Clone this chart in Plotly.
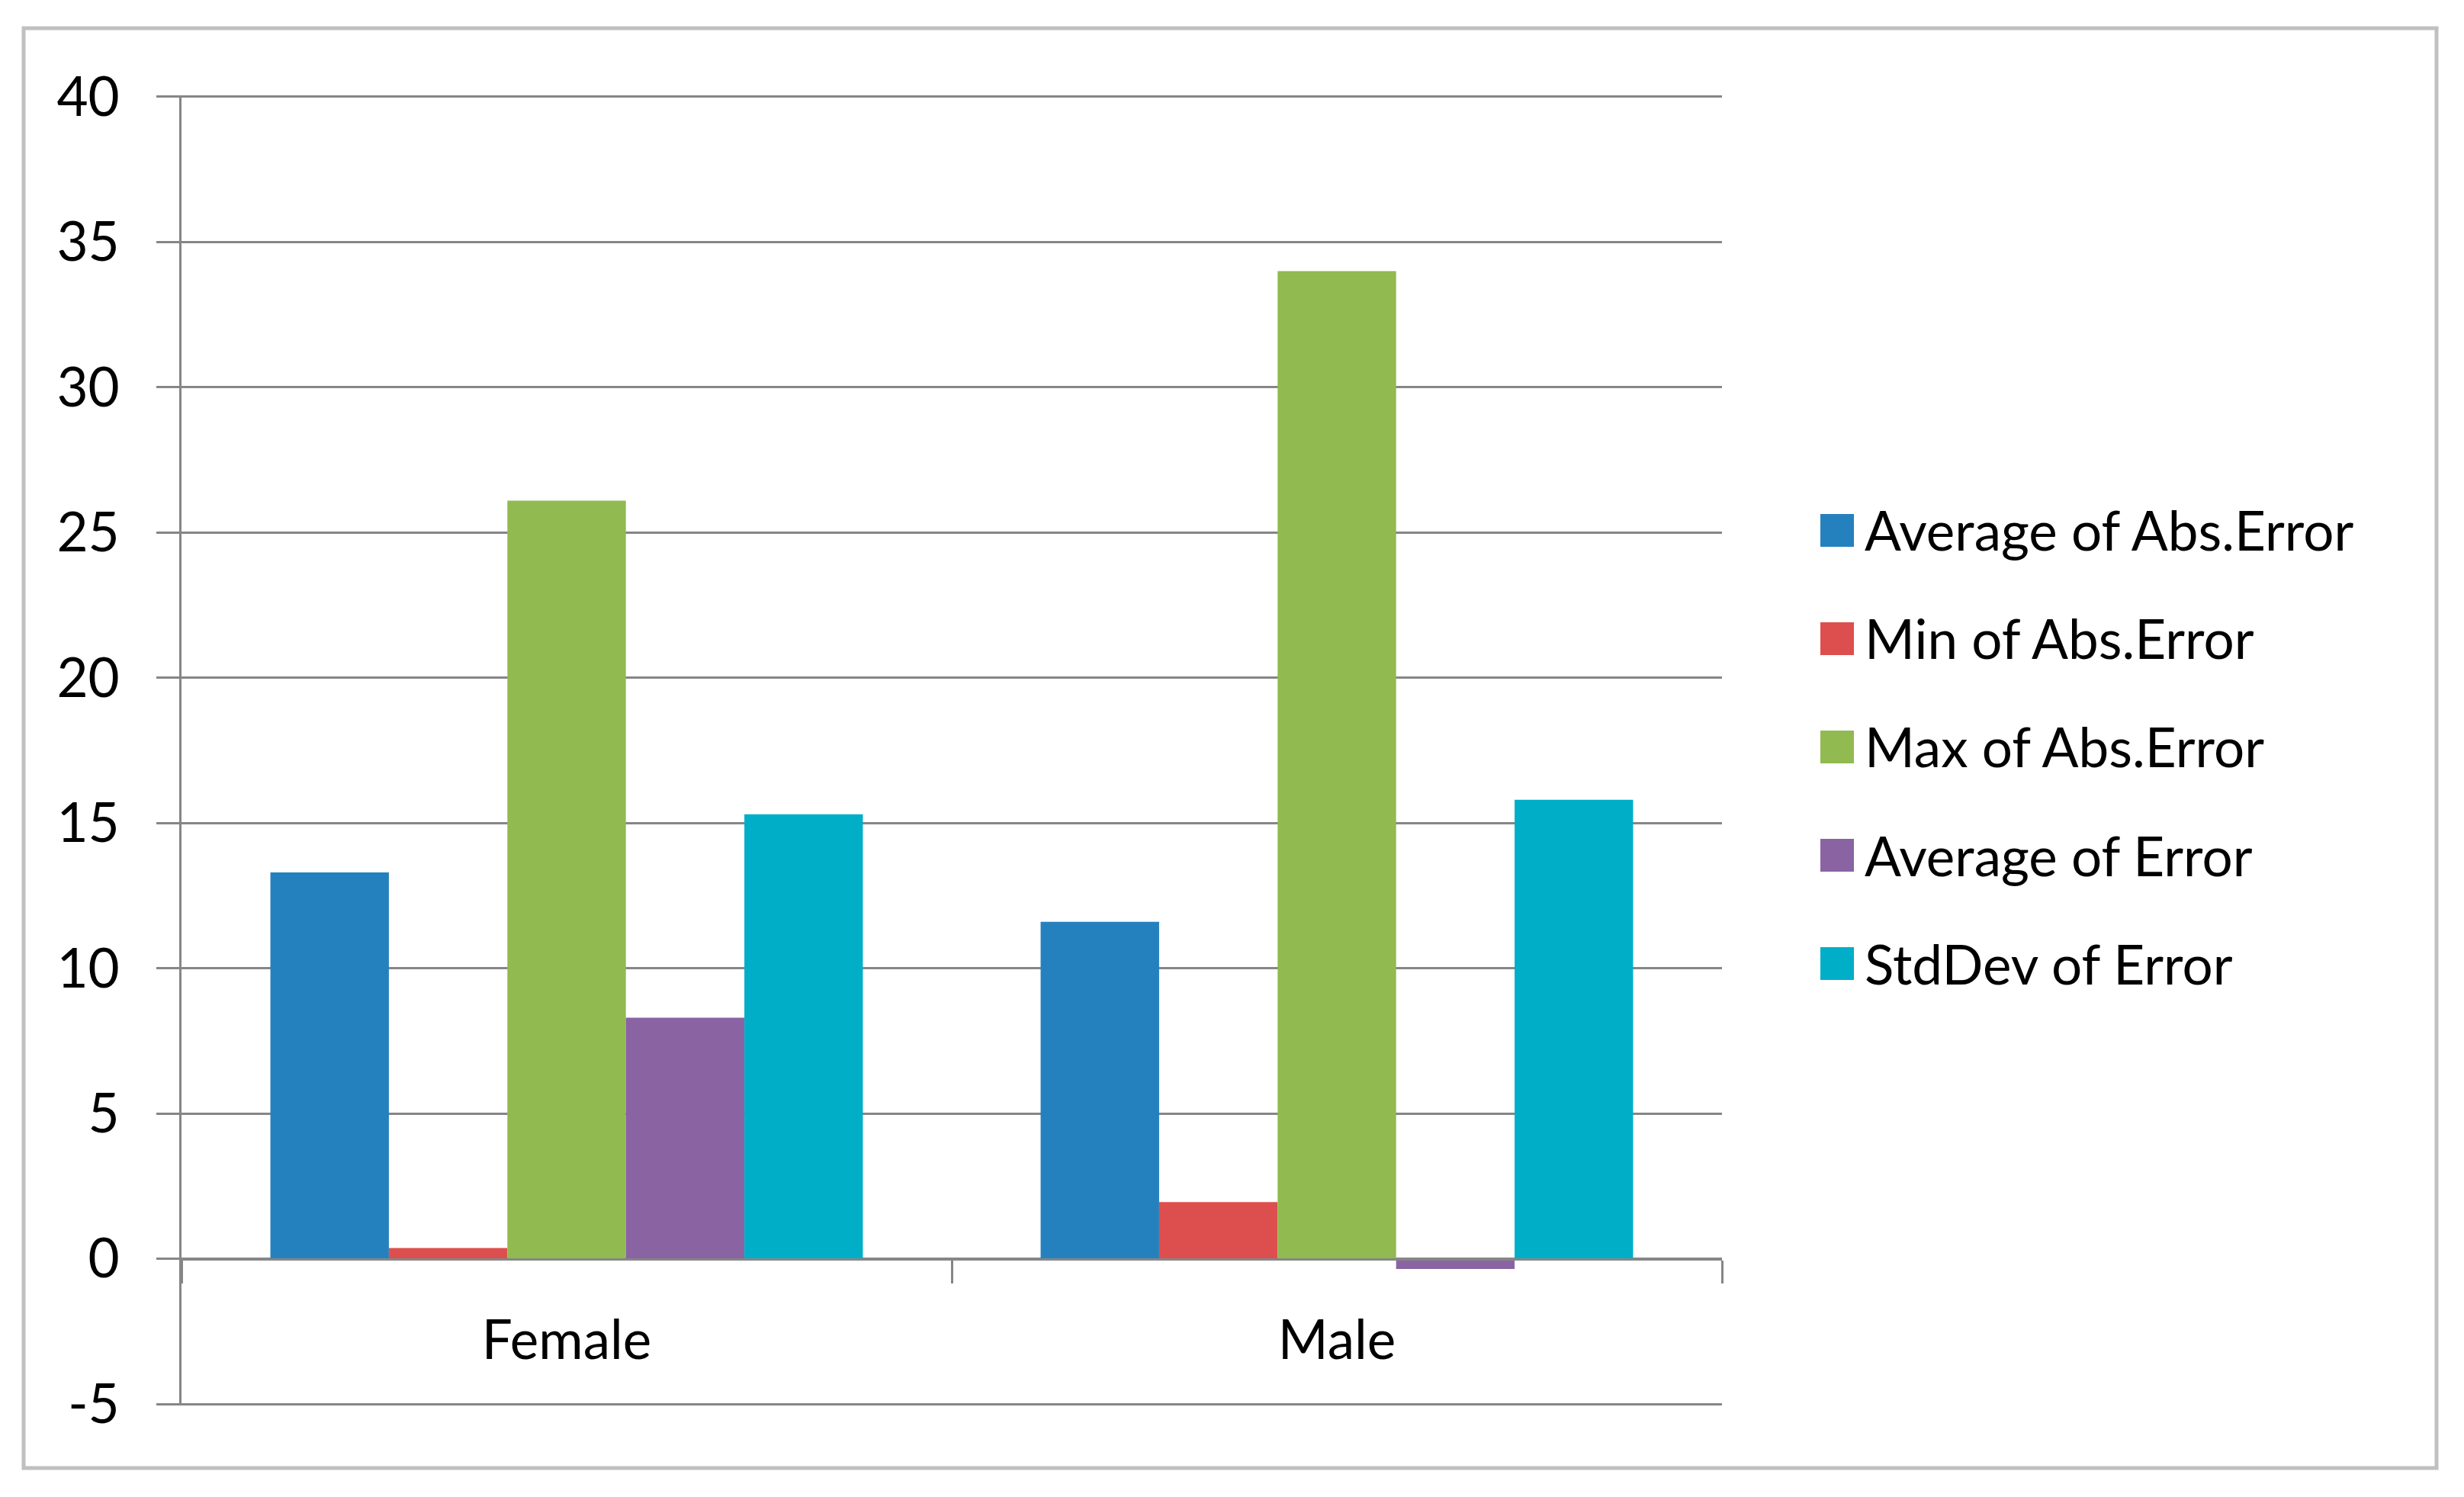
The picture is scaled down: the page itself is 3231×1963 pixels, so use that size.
import plotly.graph_objects as go

# ---------------- data ----------------
categories = ["Female", "Male"]
series_names = [
    "Average of Abs.Error",
    "Min of Abs.Error",
    "Max of Abs.Error",
    "Average of Error",
    "StdDev of Error",
]
avg_abs_error = [13.3, 11.6]
min_abs_error = [0.37, 1.95]
max_abs_error = [26.1, 34.0]
avg_error = [8.3, -0.35]
stddev_error = [15.3, 15.8]
y_tick_values = [-5, 0, 5, 10, 15, 20, 25, 30, 35, 40]
y_tick_labels = ["-5", "0", "5", "10", "15", "20", "25", "30", "35", "40"]

series_values = [avg_abs_error, min_abs_error, max_abs_error, avg_error, stddev_error]
colors = ["#2581BE", "#DD4F4E", "#91BA50", "#8A63A3", "#00AEC8"]

# ---------------- layout geometry (pixels) ----------------
W, H = 3231, 1963
Y_MIN, Y_MAX = -5, 40
PAD = 0.05  # small range padding so the edge gridlines are drawn
L, R = 238, 2258
PX_PER_UNIT = (1841 - 127) / (Y_MAX - Y_MIN)
T = 127 - PAD * PX_PER_UNIT
B = 1841 + PAD * PX_PER_UNIT
GRID = "#868686"
FONT = "Lato"
FS = 71


def px_x(x):
    return (x - L) / (R - L)


def px_y(y):
    return (B - y) / (B - T)


fig = go.Figure()
for name, vals, col in zip(series_names, series_values, colors):
    fig.add_trace(
        go.Bar(
            x=categories,
            y=vals,
            name=name,
            marker=dict(color=col, line=dict(width=0)),
            showlegend=False,
        )
    )

shapes = [
    dict(
        type="rect", xref="paper", yref="paper",
        x0=px_x(31), x1=px_x(3195), y0=px_y(1925), y1=px_y(37),
        line=dict(color="#C0C0C0", width=5), fillcolor="rgba(0,0,0,0)",
        layer="below",
    )
]
annotations = []
for i, (name, col) in enumerate(zip(series_names, colors)):
    top = 674 + 142 * i
    shapes.append(
        dict(
            type="rect", xref="paper", yref="paper",
            x0=px_x(2387), x1=px_x(2431), y0=px_y(top + 43), y1=px_y(top),
            line=dict(width=0), fillcolor=col,
        )
    )
    annotations.append(
        dict(
            xref="paper", yref="paper", x=px_x(2443), y=px_y(top + 21),
            xanchor="left", yanchor="middle", showarrow=False, text=name,
            font=dict(family=FONT, size=FS, color="#000000"),
        )
    )

fig.update_layout(
    width=W,
    height=H,
    margin=dict(l=L, r=W - R, t=T, b=H - B, pad=0),
    paper_bgcolor="white",
    plot_bgcolor="white",
    barmode="group",
    bargap=0.2308,
    bargroupgap=0,
    showlegend=False,
    font=dict(family=FONT, size=FS, color="#000000"),
    shapes=shapes,
    annotations=annotations,
    xaxis=dict(
        type="category",
        anchor="free",
        position=(0 - (Y_MIN - PAD)) / ((Y_MAX + PAD) - (Y_MIN - PAD)),
        showline=True,
        linecolor=GRID,
        linewidth=3,
        showgrid=False,
        zeroline=False,
        ticks="outside",
        tickson="boundaries",
        ticklen=30,
        tickwidth=3,
        tickcolor=GRID,
        ticklabelstandoff=44,
        tickfont=dict(family=FONT, size=FS, color="#000000"),
    ),
    yaxis=dict(
        range=[Y_MIN - PAD, Y_MAX + PAD],
        tickmode="array",
        tickvals=y_tick_values,
        ticktext=y_tick_labels,
        showline=True,
        linecolor=GRID,
        linewidth=3,
        showgrid=True,
        gridcolor=GRID,
        gridwidth=3,
        zeroline=False,
        ticks="outside",
        ticklen=30,
        tickwidth=3,
        tickcolor=GRID,
        ticklabelstandoff=34,
        tickfont=dict(family=FONT, size=FS, color="#000000"),
    ),
)

fig.write_html(
    "out.html",
    config={"displayModeBar": False},
    post_script="document.body.style.margin='0';",
)
